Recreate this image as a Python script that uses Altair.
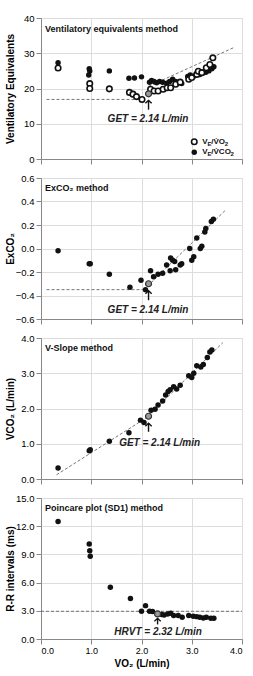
import altair as alt
import pandas as pd

# ---------------- data ----------------
# Panel 1: ventilatory equivalents
ve_vo2_x = [0.34, 0.97, 0.97, 1.36, 1.76, 1.83, 1.90, 2.01, 2.18, 2.25, 2.33, 2.43, 2.51, 2.58, 2.68, 2.77,
            2.94, 3.00, 3.10, 3.13, 3.20, 3.29, 3.36, 3.42]
ve_vo2_y = [25.8, 21.4, 20.0, 19.9, 18.9, 18.4, 17.7, 16.9, 19.8, 19.3, 19.3, 19.8, 20.2, 20.2, 21.2, 21.8,
            22.6, 23.1, 24.0, 24.9, 24.5, 25.9, 26.8, 28.7]
ve_vco2_x = [0.34, 0.96, 0.97, 0.95, 1.36, 1.75, 1.86, 2.00, 2.16, 2.20, 2.25, 2.30, 2.36, 2.42, 2.50, 2.56,
             2.62, 2.68, 2.74, 2.80, 2.92, 2.97, 3.04, 3.10, 3.16, 3.22, 3.28, 3.34, 3.40, 3.44]
ve_vco2_y = [27.3, 25.6, 25.0, 23.8, 25.0, 22.9, 23.0, 23.3, 21.8, 22.3, 22.0, 21.6, 22.0, 21.8, 21.5, 22.0,
             22.6, 22.0, 21.8, 21.4, 23.4, 23.8, 23.5, 24.2, 24.0, 24.4, 24.6, 25.0, 25.6, 26.2]
get1 = (2.14, 18.5)

# Panel 2: ExCO2
ex_x = [0.34, 0.96, 0.98, 1.36, 1.77, 1.99, 2.08, 2.18, 2.24, 2.33, 2.42, 2.50, 2.57, 2.58, 2.62, 2.66,
        2.68, 2.77, 2.80, 2.96, 3.00, 3.04, 3.10, 3.17, 3.20, 3.26, 3.28, 3.39, 3.43]
ex_y = [-0.02, -0.13, -0.13, -0.22, -0.33, -0.27, -0.35, -0.19, -0.24, -0.22, -0.21, -0.14, -0.19, -0.08,
        -0.10, -0.11, -0.18, -0.14, -0.13, 0.00, -0.10, -0.07, 0.09, 0.00, 0.02, 0.14, 0.17, 0.23, 0.25]
get2 = (2.14, -0.30)

# Panel 3: V-slope
vs_x = [0.34, 0.96, 0.98, 1.36, 1.75, 1.98, 2.05, 2.19, 2.27, 2.33, 2.42, 2.48, 2.53, 2.57, 2.64, 2.70,
        2.77, 2.94, 3.00, 3.04, 3.10, 3.18, 3.23, 3.31, 3.36, 3.40]
vs_y = [0.31, 0.80, 0.83, 1.07, 1.31, 1.67, 1.60, 1.95, 1.98, 2.10, 2.21, 2.38, 2.48, 2.53, 2.62, 2.55,
        2.66, 2.93, 2.88, 3.00, 3.21, 3.18, 3.25, 3.45, 3.60, 3.66]
get3 = (2.14, 1.78)

# Panel 4: Poincare SD1
rr_x = [0.34, 0.96, 0.97, 0.98, 1.38, 1.78, 2.00, 2.08, 2.16, 2.22, 2.40, 2.45, 2.52, 2.58, 2.64, 2.73,
        2.81, 2.94, 3.03, 3.10, 3.16, 3.23, 3.29, 3.38, 3.44]
rr_y = [12.5, 10.1, 9.4, 8.8, 5.5, 4.3, 2.95, 3.55, 2.95, 2.92, 2.6, 2.56, 2.67, 2.74, 2.5, 2.49,
        2.31, 2.49, 2.42, 2.38, 2.31, 2.24, 2.31, 2.2, 2.2]
hrvt = (2.32, 2.67)

# dashed reference lines: (segment, x, y)
p1_lines_seg = [0, 0, 1, 1]
p1_lines_x = [0.11, 2.10, 2.14, 3.85]
p1_lines_y = [16.9, 16.9, 20.6, 31.7]
p2_lines_seg = [0, 0, 1, 1]
p2_lines_x = [0.11, 2.10, 2.05, 3.68]
p2_lines_y = [-0.35, -0.35, -0.35, 0.33]
p3_lines_seg = [0, 0, 1, 1]
p3_lines_x = [0.31, 2.10, 2.10, 3.62]
p3_lines_y = [0.12, 1.74, 1.74, 3.87]
p4_lines_seg = [0, 0]
p4_lines_x = [0.0, 4.0]
p4_lines_y = [2.95, 2.95]

panel_titles = ["Ventilatory equivalents method", "ExCO\u2082 method", "V-Slope method",
                "Poincare plot (SD1) method"]
panel_title_y = [36.9, 0.515, 3.73, 13.9]
y_titles = ["Ventilatory Equivalents", "ExCO\u2082", "VCO\u2082 (L/min)", "R-R intervals (ms)"]
y_domains = [[0, 40], [-0.6, 0.6], [0, 4], [0, 15]]
y_ticks = [[0, 10, 20, 30, 40], [-0.6, -0.4, -0.2, 0.0, 0.2, 0.4, 0.6], [0, 1, 2, 3, 4],
           [0, 3, 6, 9, 12, 15]]
y_formats = ["d", ".1f", ".1f", ".1f"]
x_ticks = [0, 1, 2, 3, 4]
x_title = "VO\u2082 (L/min)"

ann_texts = ["GET = 2.14 L/min", "GET = 2.14 L/min", "GET = 2.14 L/min", "HRVT = 2.32 L/min"]
ann_x = [2.13, 2.13, 2.36, 2.33]
ann_y = [11.3, -0.52, 1.03, 0.71]
arrow_x = [2.14, 2.14, 2.14, 2.32]
arrow_tail = [14.0, -0.44, 1.34, 1.55]
arrow_head = [16.6, -0.36, 1.58, 2.2]

# legend (panel 1)
leg_x = [3.05, 3.05]
leg_y = [4.9, 1.9]
leg_text_x = 3.21

FONT = "Liberation Sans"
W = 201
H = 141
INK = "#111111"


def X(show):
    if show:
        ax = alt.Axis(values=x_ticks, format=".1f", title=x_title, labelFontSize=9, titleFontSize=10,
                      titlePadding=3)
    else:
        ax = alt.Axis(values=x_ticks, labels=False, title=None)
    return alt.X("x:Q", scale=alt.Scale(domain=[0, 4], nice=False, zero=False), axis=ax)


def Y(i):
    ax = alt.Axis(values=y_ticks[i], format=y_formats[i], title=y_titles[i], titleX=-26, titleY=H / 2,
                  labelFontSize=9.5, titleFontSize=10)
    return alt.Y("y:Q", scale=alt.Scale(domain=y_domains[i], nice=False, zero=False), axis=ax)


def panel(i, show_x, series, get_pt, lx, ly, lseg, extra=None):
    layers = []
    lines = pd.DataFrame({"x": lx, "y": ly, "seg": lseg})
    layers.append(alt.Chart(lines).mark_line(strokeDash=[3, 2], color="#666666", strokeWidth=0.9).encode(
        x=X(show_x), y=Y(i), detail="seg:N"))
    for s in series:
        df = pd.DataFrame({"x": s["x"], "y": s["y"]})
        if s["open"]:
            mk = alt.Chart(df).mark_circle(size=30, fill="white", stroke=INK, strokeWidth=1.6, opacity=1)
        else:
            mk = alt.Chart(df).mark_circle(size=30, color=INK, opacity=1)
        layers.append(mk.encode(x=X(show_x), y=Y(i)))
    g = pd.DataFrame({"x": [get_pt[0]], "y": [get_pt[1]]})
    layers.append(alt.Chart(g).mark_circle(size=36, fill="#9a9a9a", stroke="#333333", strokeWidth=1.2,
                                            opacity=1).encode(x=X(show_x), y=Y(i)))
    # arrow
    ar = pd.DataFrame({"x": [arrow_x[i]], "y": [arrow_tail[i]], "y2": [arrow_head[i]]})
    layers.append(alt.Chart(ar).mark_rule(color=INK, strokeWidth=1.4).encode(
        x=X(show_x), y=Y(i), y2="y2:Q"))
    ah = pd.DataFrame({"x": [arrow_x[i]], "y": [arrow_head[i]]})
    layers.append(alt.Chart(ah).mark_point(shape="M-1,0.9L0,0L1,0.9", size=40, filled=False, stroke=INK,
                                           strokeWidth=1.4, opacity=1).encode(x=X(show_x), y=Y(i)))
    # annotation
    an = pd.DataFrame({"x": [ann_x[i]], "y": [ann_y[i]], "t": [ann_texts[i]]})
    layers.append(alt.Chart(an).mark_text(font=FONT, fontSize=10, fontStyle="italic", fontWeight="bold",
                                          color="#222222", align="center", baseline="middle").encode(
        x=X(show_x), y=Y(i), text="t:N"))
    # panel title
    tt = pd.DataFrame({"x": [0.08], "y": [panel_title_y[i]], "t": [panel_titles[i]]})
    layers.append(alt.Chart(tt).mark_text(font=FONT, fontSize=9, fontWeight="bold", color=INK,
                                          align="left", baseline="middle").encode(
        x=X(show_x), y=Y(i), text="t:N"))
    if extra:
        layers.extend(extra)
    return alt.layer(*layers).properties(width=W, height=H)


def legend_layers():
    out = []
    o = pd.DataFrame({"x": [leg_x[0]], "y": [leg_y[0]]})
    out.append(alt.Chart(o).mark_circle(size=30, fill="white", stroke=INK, strokeWidth=1.6, opacity=1).encode(
        x=X(False), y=Y(0)))
    f = pd.DataFrame({"x": [leg_x[1]], "y": [leg_y[1]]})
    out.append(alt.Chart(f).mark_circle(size=30, color=INK, opacity=1).encode(x=X(False), y=Y(0)))
    pieces = [
        (0, "V", 0, 0, 8), (0, "E", 5.2, 2, 6), (0, "/V\u0307O", 9.0, 0, 8), (0, "2", 22.5, 2, 6),
        (1, "V", 0, 0, 8), (1, "E", 5.2, 2, 6), (1, "/V\u0307CO", 9.0, 0, 8), (1, "2", 28.2, 2, 6),
    ]
    for row, txt, dx, dy, fs in pieces:
        d = pd.DataFrame({"x": [leg_text_x], "y": [leg_y[row]], "t": [txt]})
        out.append(alt.Chart(d).mark_text(font=FONT, fontSize=fs, fontWeight="bold", color=INK, align="left",
                                          baseline="middle", dx=dx, dy=dy).encode(
            x=X(False), y=Y(0), text="t:N"))
    return out


p1 = panel(0, False, [{"x": ve_vco2_x, "y": ve_vco2_y, "open": False},
                      {"x": ve_vo2_x, "y": ve_vo2_y, "open": True}], get1,
           p1_lines_x, p1_lines_y, p1_lines_seg, extra=legend_layers())
p2 = panel(1, False, [{"x": ex_x, "y": ex_y, "open": False}], get2, p2_lines_x, p2_lines_y, p2_lines_seg)
p3 = panel(2, False, [{"x": vs_x, "y": vs_y, "open": False}], get3, p3_lines_x, p3_lines_y, p3_lines_seg)
p4 = panel(3, True, [{"x": rr_x, "y": rr_y, "open": False}], hrvt, p4_lines_x, p4_lines_y, p4_lines_seg)

chart = alt.vconcat(p1, p2, p3, p4, spacing=7).properties(
    padding={"left": 4, "top": 12, "right": 0, "bottom": 2}
).configure_view(stroke=INK, strokeWidth=1.3).configure_axis(
    labelFont=FONT, titleFont=FONT, labelFontWeight="bold", titleFontWeight="bold", labelColor=INK,
    titleColor=INK, domainColor=INK, tickColor=INK, domainWidth=1.3, tickWidth=1.3, tickSize=4,
    labelPadding=2, grid=False
).configure(background="white")

chart.save("out.html", embed_options={"renderer": "svg", "actions": False})
